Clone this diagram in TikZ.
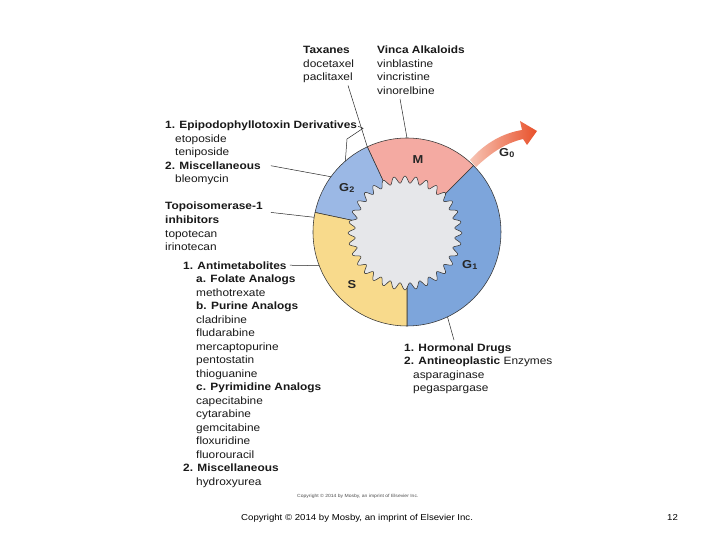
\documentclass[tikz,border=0pt]{standalone}
\usepackage{fontspec}
\setmainfont{Liberation Sans}[FakeStretch=1.12]
\usetikzlibrary{arrows.meta,positioning}
\definecolor{PhaseGI}{HTML}{7DA5DB}
\definecolor{PhaseGII}{HTML}{9BB8E5}
\definecolor{PhaseM}{HTML}{F4AAA2}
\definecolor{PhaseS}{HTML}{F8DA8C}
\definecolor{Core}{HTML}{E6E7EA}
\definecolor{ArrowLight}{HTML}{F7C4B4}
\definecolor{ArrowDark}{HTML}{E8502A}

\begin{document}
\begin{tikzpicture}[x=1pt,y=1pt,>=Latex]
        \tikzset{
          drugtext/.style={
            anchor=base west,
            inner sep=0pt,
            align=left,
            text=black!90,
            font=\fontsize{10.6}{13.5}\selectfont
          },
          drugclass/.style={drugtext,font=\fontsize{10.6}{13.5}\selectfont\bfseries},
          phaselabel/.style={font=\fontsize{11.5}{13}\selectfont\bfseries,text=black!85},
          pointer/.style={draw=black!85,line width=0.5pt},
          phaseedge/.style={draw=black!80,line width=0.55pt}
        }
        \useasboundingbox (0,0) rectangle (720,-540);
        \fill[white] (0,0) rectangle (720,-540);
        % cell cycle ring
        \coordinate (c) at (407,-232);
        \filldraw[phaseedge,fill=PhaseGI] (c) -- ++(-90:94) arc[start angle=-90,end angle=45,radius=94] -- cycle;
        \filldraw[phaseedge,fill=PhaseM] (c) -- ++(45:94) arc[start angle=45,end angle=115,radius=94] -- cycle;
        \filldraw[phaseedge,fill=PhaseGII] (c) -- ++(115:94) arc[start angle=115,end angle=168,radius=94] -- cycle;
        \filldraw[phaseedge,fill=PhaseS] (c) -- ++(168:94) arc[start angle=168,end angle=270,radius=94] -- cycle;
        \begin{scope}[shift={(405,-233)}]
          \filldraw[phaseedge,fill=Core] plot[domain=0:360,samples=721] (\x:{53.5+3.4*cos(32*\x)}) -- cycle;
        \end{scope}
        \node[phaselabel] (m) at (418,-160) {M};
        \node[phaselabel] (g2) at (347,-188) {G\textsubscript{2}};
        \node[phaselabel] (g1) at (470,-265) {G\textsubscript{1}};
        \node[phaselabel] (s) at (352,-285) {S};
        \node[phaselabel] (g0) at (507,-153) {G\textsubscript{0}};
        % exit to G0
        \shade[left color=ArrowLight,right color=ArrowDark]
          (476,-167) .. controls (492,-152) and (506,-143) .. (523,-139)
          -- (527,-145) -- (537,-131) -- (520,-121) -- (522,-130)
          .. controls (504,-133) and (486,-142) .. (470,-160) -- cycle;
        % where the arrows meet the ring
        \path (c) ++(90:94) coordinate (ringVinca);
        \path (c) ++(115:94) coordinate (ringTax);
        \path (c) ++(131:94) coordinate (ringEpi);
        \path (c) ++(144:94) coordinate (ringMisc);
        \path (c) ++(171:94) coordinate (ringTopo);
        \path (c) ++(201:94) coordinate (ringAnti);
        \path (c) ++(295.5:94) coordinate (ringHorm);
        % drug lists (multi-line nodes sit on their last baseline)
        \node[drugtext] (taxanes) at (303,-81) {\textbf{Taxanes}\\docetaxel\\paclitaxel};
        \node[drugtext] (vinca) at (377,-94.5) {\textbf{Vinca Alkaloids}\\vinblastine\\vincristine\\vinorelbine};
        \node[drugclass] (epi) at (165,-129) {1. Epipodophyllotoxin Derivatives};
        \node[drugtext] (epilist) at (175,-156) {etoposide\\teniposide};
        \node[drugclass] (misc) at (165,-169.5) {2. Miscellaneous};
        \node[drugtext] (bleo) at (175,-183) {bleomycin};
        \node[drugclass] (topo) at (165,-210) {Topoisomerase-1};
        \node[drugtext] (topolist) at (165,-250.5) {\textbf{inhibitors}\\topotecan\\irinotecan};
        \node[drugclass] (antimet) at (183,-269) {1. Antimetabolites};
        \node[drugtext] (antilist) at (196,-485) {\textbf{a. Folate Analogs}\\methotrexate\\\textbf{b. Purine Analogs}\\cladribine\\fludarabine\\mercaptopurine\\pentostatin\\thioguanine\\\textbf{c. Pyrimidine Analogs}\\capecitabine\\cytarabine\\gemcitabine\\floxuridine\\fluorouracil\\\hspace*{-13pt}\textbf{2. Miscellaneous}\\hydroxyurea};
        \node[drugtext] (hormonal) at (404,-391.5) {\textbf{1. Hormonal Drugs}\\\textbf{2. Antineoplastic} Enzymes\\\hspace*{9pt}asparaginase\\\hspace*{9pt}pegaspargase};
        % pointers to the phases
        \draw[pointer] ([xshift=45pt,yshift=-2pt]taxanes.south west) -- (ringTax);
        \draw[pointer] ([xshift=23pt,yshift=-4pt]vinca.south west) -- (ringVinca);
        \draw[pointer] ([xshift=1pt]epi.east) -- ++(5,-2) -- (347,-139) -- (ringEpi);
        \draw[pointer] ([xshift=10pt]misc.east) -- (ringMisc);
        \draw[pointer] ([xshift=8pt]topo.south east) -- (ringTopo);
        \draw[pointer] ([xshift=3pt]antimet.east) -- (ringAnti);
        \draw[pointer] ([xshift=50pt,yshift=3pt]hormonal.north west) -- (ringHorm);
        % credits
        \node[anchor=base west,inner sep=0pt,text=black!70,font=\fontsize{4.5}{5}\selectfont] (figcredit) at (297,-497) {Copyright © 2014 by Mosby, an imprint of Elsevier Inc.};
        \node[anchor=base west,inner sep=0pt,font=\fontsize{8.6}{10}\selectfont] (slidecredit) at (241,-520) {Copyright © 2014 by Mosby, an imprint of Elsevier Inc.};
        \node[anchor=base west,inner sep=0pt,font=\fontsize{8.6}{10}\selectfont] (pagenum) at (667,-520) {12};
      \end{tikzpicture}
\end{document}
